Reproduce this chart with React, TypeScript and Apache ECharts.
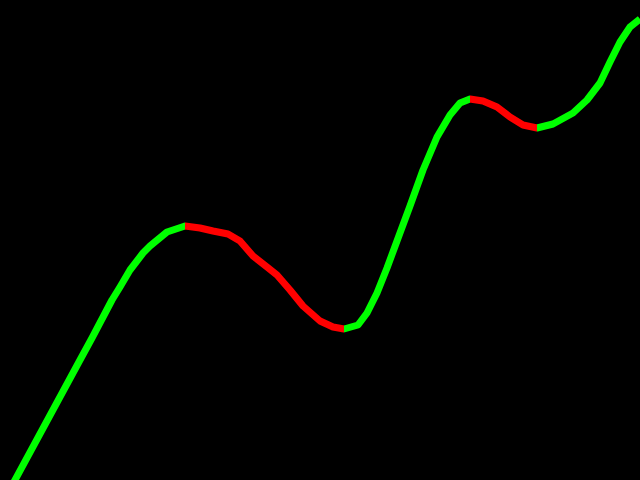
import React, { useEffect, useRef } from "react";
import * as echarts from "echarts";

const xValues = [2, 80, 92, 112, 120, 130, 143, 150, 167, 185, 200, 213, 228, 240, 253, 267, 277, 290, 303, 320, 333, 344, 358, 367, 377, 387, 397, 410, 423, 437, 450, 460, 470, 483, 497, 510, 523, 537, 553, 573, 587, 600, 610, 620, 630, 640];
const yValues = [-24, 120, 142, 180, 193, 210, 227, 234, 248, 254, 252, 249, 246, 239, 224, 213, 205, 190, 174, 159, 153, 151, 155, 167, 187, 212, 239, 274, 310, 343, 365, 377, 381, 379, 373, 363, 355, 352, 356, 367, 380, 397, 418, 438, 453, 461];

const UP = "#00ff00";
const DOWN = "#ff0000";

export default function App() {
  const ref = useRef<HTMLDivElement>(null);
  useEffect(() => {
    if (!ref.current) return;
    const chart = echarts.init(ref.current, null, { renderer: "svg" });
    const data = xValues.map((x, i) => [x, yValues[i]]);
    const pieces: any[] = [];
    for (let i = 0; i < xValues.length - 1; i++) {
      const color = yValues[i + 1] >= yValues[i] ? UP : DOWN;
      const p: any = { gte: xValues[i], color };
      if (i < xValues.length - 2) p.lt = xValues[i + 1];
      else p.lte = xValues[i + 1];
      pieces.push(p);
    }
    chart.setOption({
      animation: false,
      backgroundColor: "#000000",
      grid: { left: 0, right: 0, top: 0, bottom: 0 },
      xAxis: { type: "value", min: 0, max: 640, show: false },
      yAxis: { type: "value", min: 0, max: 480, show: false },
      visualMap: { show: false, type: "piecewise", dimension: 0, pieces },
      series: [
        {
          type: "line",
          data,
          symbol: "none",
          clip: true,
          lineStyle: { width: 7, join: "round" },
        },
      ],
    });
    return () => chart.dispose();
  }, []);
  return (
    <div
      ref={ref}
      style={{ position: "fixed", left: 0, top: 0, width: 640, height: 480, background: "#000" }}
    />
  );
}
